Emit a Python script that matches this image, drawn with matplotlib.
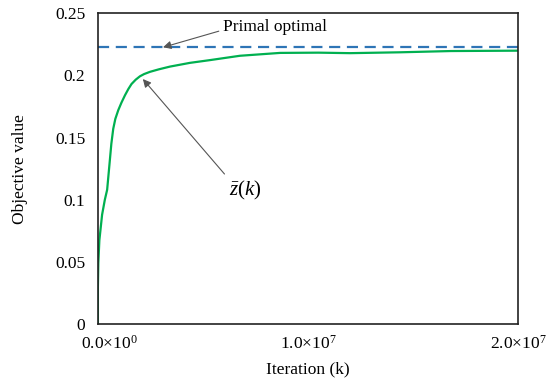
import numpy as np
import matplotlib
matplotlib.use('Agg')
import matplotlib.pyplot as plt
from matplotlib.transforms import ScaledTranslation

plt.rcParams['font.family'] = ['Liberation Serif', 'DejaVu Serif']
plt.rcParams['mathtext.fontset'] = 'custom'
plt.rcParams['mathtext.rm'] = 'Liberation Serif'
plt.rcParams['mathtext.it'] = 'Liberation Serif:italic'

# data
iteration = [0.0, 0.0, 0.02e6, 0.07e6, 0.2e6, 0.33e6, 0.44e6, 0.57e6, 0.64e6, 0.73e6,
             0.83e6, 0.97e6, 1.12e6, 1.29e6, 1.45e6, 1.6e6, 1.8e6, 2.0e6, 2.2e6, 2.48e6,
             2.9e6, 3.43e6, 4.38e6, 5.33e6, 6.76e6, 8.67e6, 10.5e6, 12.0e6, 14.4e6,
             16.8e6, 20.0e6]
z_bar = [0.0, 0.03, 0.049, 0.0675, 0.088, 0.100, 0.108, 0.132, 0.145, 0.157,
         0.165, 0.172, 0.178, 0.184, 0.189, 0.193, 0.1965, 0.1992, 0.201, 0.2028,
         0.2048, 0.207, 0.210, 0.2122, 0.2157, 0.218, 0.2182, 0.2178, 0.2185,
         0.2195, 0.2198]
primal_optimal = 0.2225

xticks = [0, 1e7, 2e7]
xtick_labels = [r'0.0$\times$10$^{0}$', r'1.0$\times$10$^{7}$', r'2.0$\times$10$^{7}$']
yticks = [0, 0.05, 0.1, 0.15, 0.2, 0.25]
ytick_labels = ['0', '0.05', '0.1', '0.15', '0.2', '0.25']

fig = plt.figure(figsize=(5.5, 3.85), dpi=100)
ax = fig.add_axes([0.178, 0.158, 0.764, 0.808])

ax.plot(iteration, z_bar, color='#00B050', lw=1.6, solid_joinstyle='round')
ax.axhline(primal_optimal, color='#2E75B6', lw=1.6, dashes=(5, 3))

ax.set_xlim(0, 2e7)
ax.set_ylim(0, 0.25)
ax.set_xticks(xticks)
ax.set_xticklabels(xtick_labels)
ax.set_yticks(yticks)
ax.set_yticklabels(ytick_labels)
ax.tick_params(axis='both', length=0, labelsize=12.5)
ax.tick_params(axis='y', pad=9)
ax.tick_params(axis='x', pad=8)

# first x label sits a bit to the right in the original
lab0 = ax.get_xticklabels()[0]
lab0.set_transform(lab0.get_transform() + ScaledTranslation(11 / 100, 0, fig.dpi_scale_trans))

for s in ax.spines.values():
    s.set_color('#222222')
    s.set_linewidth(1.2)

ax.set_xlabel('Iteration (k)', fontsize=12.5)
ax.set_ylabel('Objective value', fontsize=12.5)
ax.xaxis.set_label_coords(0.5, -0.119)
ax.yaxis.set_label_coords(-0.166, 0.5)

ax.annotate('Primal optimal', xy=(3.1e6, primal_optimal), xytext=(5.95e6, 0.239),
            fontsize=12.5, va='center', ha='left',
            arrowprops=dict(arrowstyle='-|>', color='#555555', lw=0.8,
                            shrinkA=1, shrinkB=0, mutation_scale=12,
                            relpos=(0, 0.3)))
ax.annotate(r'$\bar{z}(k)$', xy=(2.14e6, 0.197), xytext=(7.0e6, 0.1075),
            fontsize=15, va='center', ha='center',
            arrowprops=dict(arrowstyle='-|>', color='#555555', lw=0.8,
                            shrinkA=2, shrinkB=0, mutation_scale=12,
                            relpos=(0.0, 1.0)))

plt.savefig('out.png', dpi=100)
